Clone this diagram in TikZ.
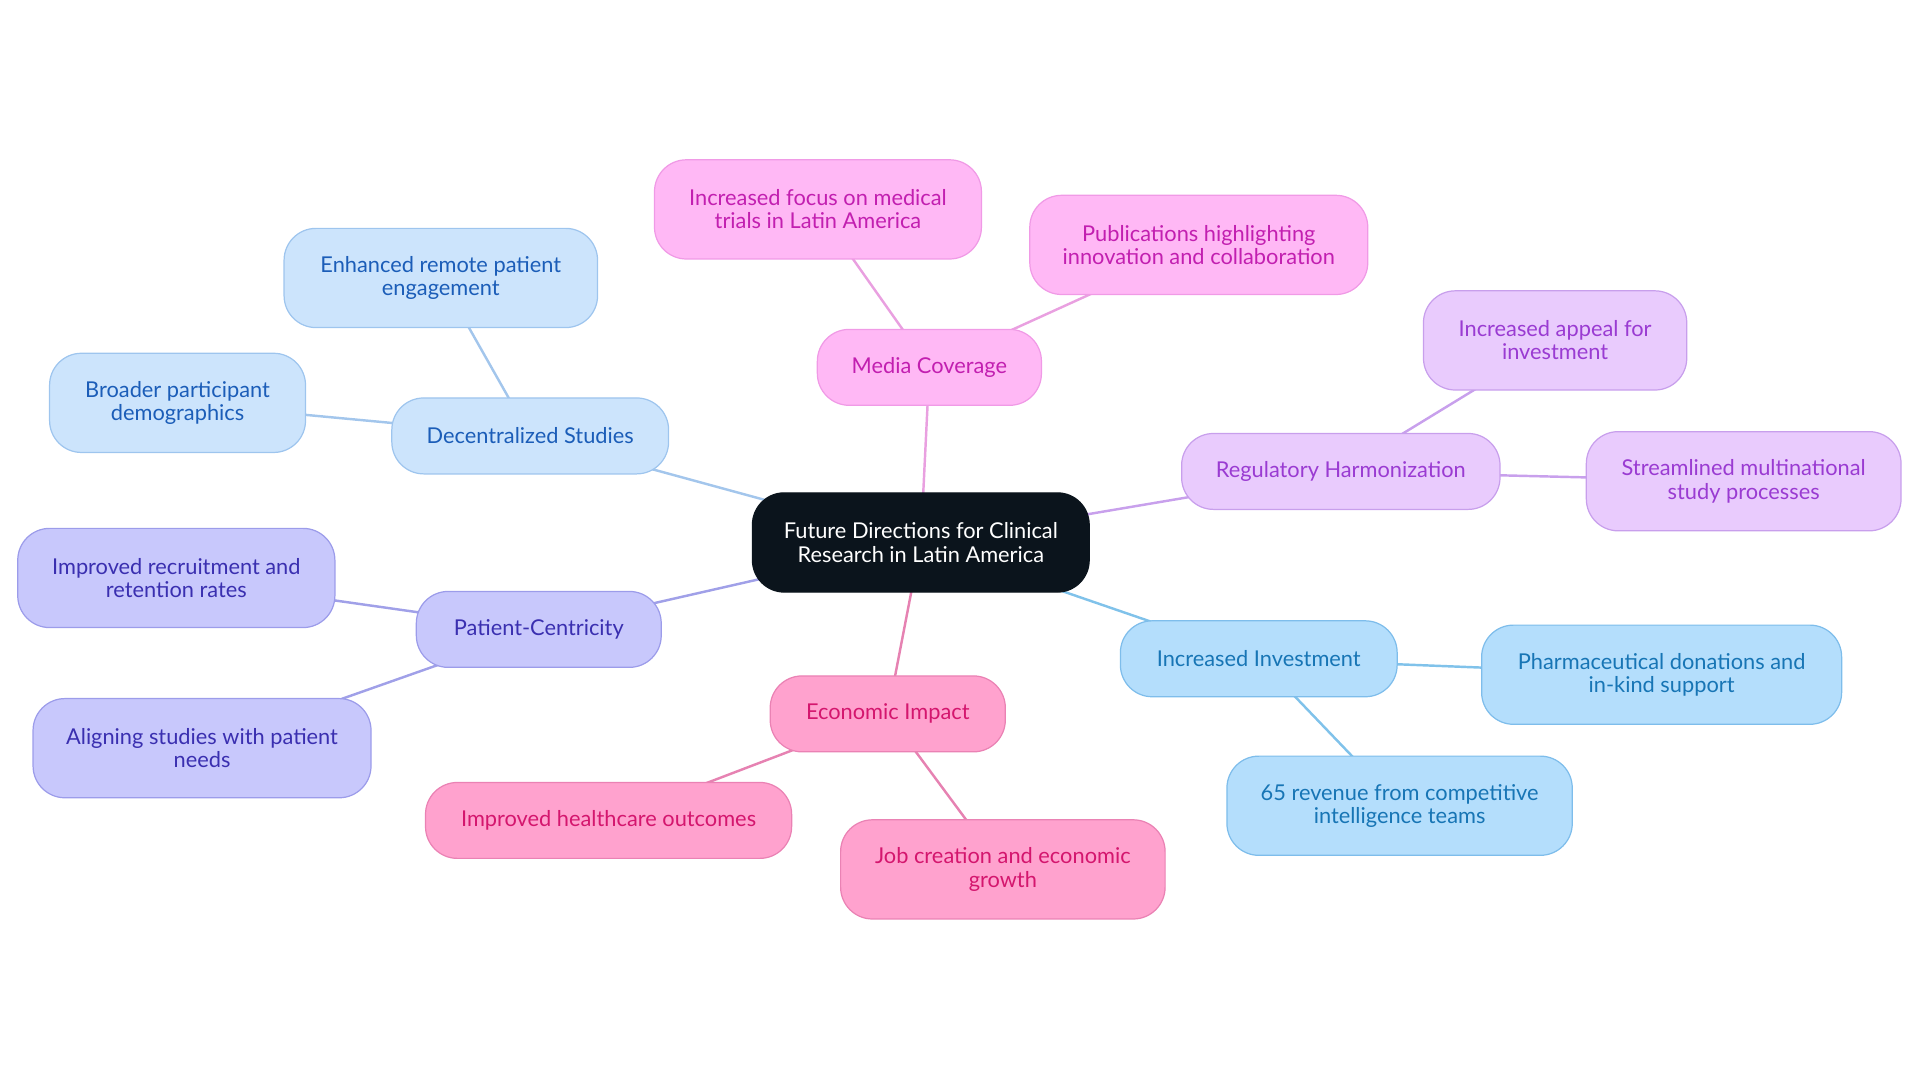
\documentclass[tikz,border=0pt]{standalone}
\usepackage{fontspec}
\setmainfont{Lato}
\usetikzlibrary{positioning,backgrounds}

\definecolor{rootfill}{HTML}{0B141C}
\definecolor{mediafill}{HTML}{FFB8F5}
\definecolor{mediadraw}{HTML}{F09AE6}
\definecolor{mediatext}{HTML}{C21FB0}
\definecolor{mediaedge}{HTML}{E9A0E0}
\definecolor{decfill}{HTML}{CCE4FC}
\definecolor{decdraw}{HTML}{9EC5EE}
\definecolor{dectext}{HTML}{1B5DB8}
\definecolor{decedge}{HTML}{A3C6EC}
\definecolor{patfill}{HTML}{C8C8FC}
\definecolor{patdraw}{HTML}{9C9CEA}
\definecolor{pattext}{HTML}{3A2FB0}
\definecolor{patedge}{HTML}{A0A0E8}
\definecolor{econfill}{HTML}{FFA2CE}
\definecolor{econdraw}{HTML}{EA82B4}
\definecolor{econtext}{HTML}{D4166E}
\definecolor{econedge}{HTML}{E682B2}
\definecolor{invfill}{HTML}{B4DEFC}
\definecolor{invdraw}{HTML}{7EBDEB}
\definecolor{invtext}{HTML}{1775B5}
\definecolor{invedge}{HTML}{80C2EA}
\definecolor{regfill}{HTML}{E9CBFD}
\definecolor{regdraw}{HTML}{C89FEC}
\definecolor{regtext}{HTML}{9A3BD2}
\definecolor{regedge}{HTML}{C8A0EC}

\begin{document}
\begin{tikzpicture}[x=1pt,y=-1pt,
    base node/.style={rectangle,rounded corners=26pt,draw,line width=1pt,align=center,inner sep=0pt,font=\fontsize{17.8}{19}\selectfont},
    small node/.style={minimum height=62pt},
    big node/.style={minimum height=81pt},
    root node/.style={base node,big node,fill=rootfill,draw=rootfill,text=white},
    media node/.style={base node,fill=mediafill,draw=mediadraw,text=mediatext},
    dec node/.style={base node,fill=decfill,draw=decdraw,text=dectext},
    pat node/.style={base node,fill=patfill,draw=patdraw,text=pattext},
    econ node/.style={base node,fill=econfill,draw=econdraw,text=econtext},
    inv node/.style={base node,fill=invfill,draw=invdraw,text=invtext},
    reg node/.style={base node,fill=regfill,draw=regdraw,text=regtext}]
    \useasboundingbox (0,0) rectangle (1568,884);

    % centre
    \node[root node,minimum width=275pt] (root) at (752,443) {Future Directions for Clinical\\Research in Latin America};

    % media coverage
    \node[media node,small node,minimum width=183pt] (media) at (759,300) {Media Coverage};
    \node[media node,big node,minimum width=267pt] (focus) at (668,171) {Increased focus on medical\\trials in Latin America};
    \node[media node,big node,minimum width=276pt] (publ) at (979,200) {Publications highlighting\\innovation and collaboration};

    % decentralized studies
    \node[dec node,small node,minimum width=226pt] (decen) at (433,356) {Decentralized Studies};
    \node[dec node,big node,minimum width=256pt] (remote) at (360,227) {Enhanced remote patient\\engagement};
    \node[dec node,big node,minimum width=209pt] (broad) at (145,329) {Broader participant\\demographics};

    % patient-centricity
    \node[pat node,small node,minimum width=200pt] (patient) at (440,514) {Patient-Centricity};
    \node[pat node,big node,minimum width=259pt] (recruit) at (144,472) {Improved recruitment and\\retention rates};
    \node[pat node,big node,minimum width=276pt] (align) at (165,611) {Aligning studies with patient\\needs};

    % economic impact
    \node[econ node,small node,minimum width=192pt] (econ) at (725,583) {Economic Impact};
    \node[econ node,small node,minimum width=299pt] (health) at (497,670) {Improved healthcare outcomes};
    \node[econ node,big node,minimum width=265pt] (jobs) at (819,710) {Job creation and economic\\growth};

    % increased investment
    \node[inv node,small node,minimum width=226pt] (invest) at (1028,538) {Increased Investment};
    \node[inv node,big node,minimum width=294pt] (pharma) at (1357,551) {Pharmaceutical donations and\\in-kind support};
    \node[inv node,big node,minimum width=282pt] (revenue) at (1143,658) {65 revenue from competitive\\intelligence teams};

    % regulatory harmonization
    \node[reg node,small node,minimum width=260pt] (regul) at (1095,385) {Regulatory Harmonization};
    \node[reg node,big node,minimum width=215pt] (appeal) at (1270,278) {Increased appeal for\\investment};
    \node[reg node,big node,minimum width=257pt] (stream) at (1424,393) {Streamlined multinational\\study processes};

    \begin{scope}[on background layer]
        \path[line width=2pt]
            (root.center) edge [draw=mediaedge] (media.center)
            (media.center) edge [draw=mediaedge] (focus.center)
            (media.center) edge [draw=mediaedge] (publ.center)

            (root.center) edge [draw=decedge] (decen.center)
            (decen.center) edge [draw=decedge] (remote.center)
            (decen.center) edge [draw=decedge] (broad.center)

            (root.center) edge [draw=patedge] (patient.center)
            (patient.center) edge [draw=patedge] (recruit.center)
            (patient.center) edge [draw=patedge] (align.center)

            (root.center) edge [draw=econedge] (econ.center)
            (econ.center) edge [draw=econedge] (health.center)
            (econ.center) edge [draw=econedge] (jobs.center)

            (root.center) edge [draw=invedge] (invest.center)
            (invest.center) edge [draw=invedge] (pharma.center)
            (invest.center) edge [draw=invedge] (revenue.center)

            (root.center) edge [draw=regedge] (regul.center)
            (regul.center) edge [draw=regedge] (appeal.center)
            (regul.center) edge [draw=regedge] (stream.center)
        ;
    \end{scope}
\end{tikzpicture}
\end{document}
